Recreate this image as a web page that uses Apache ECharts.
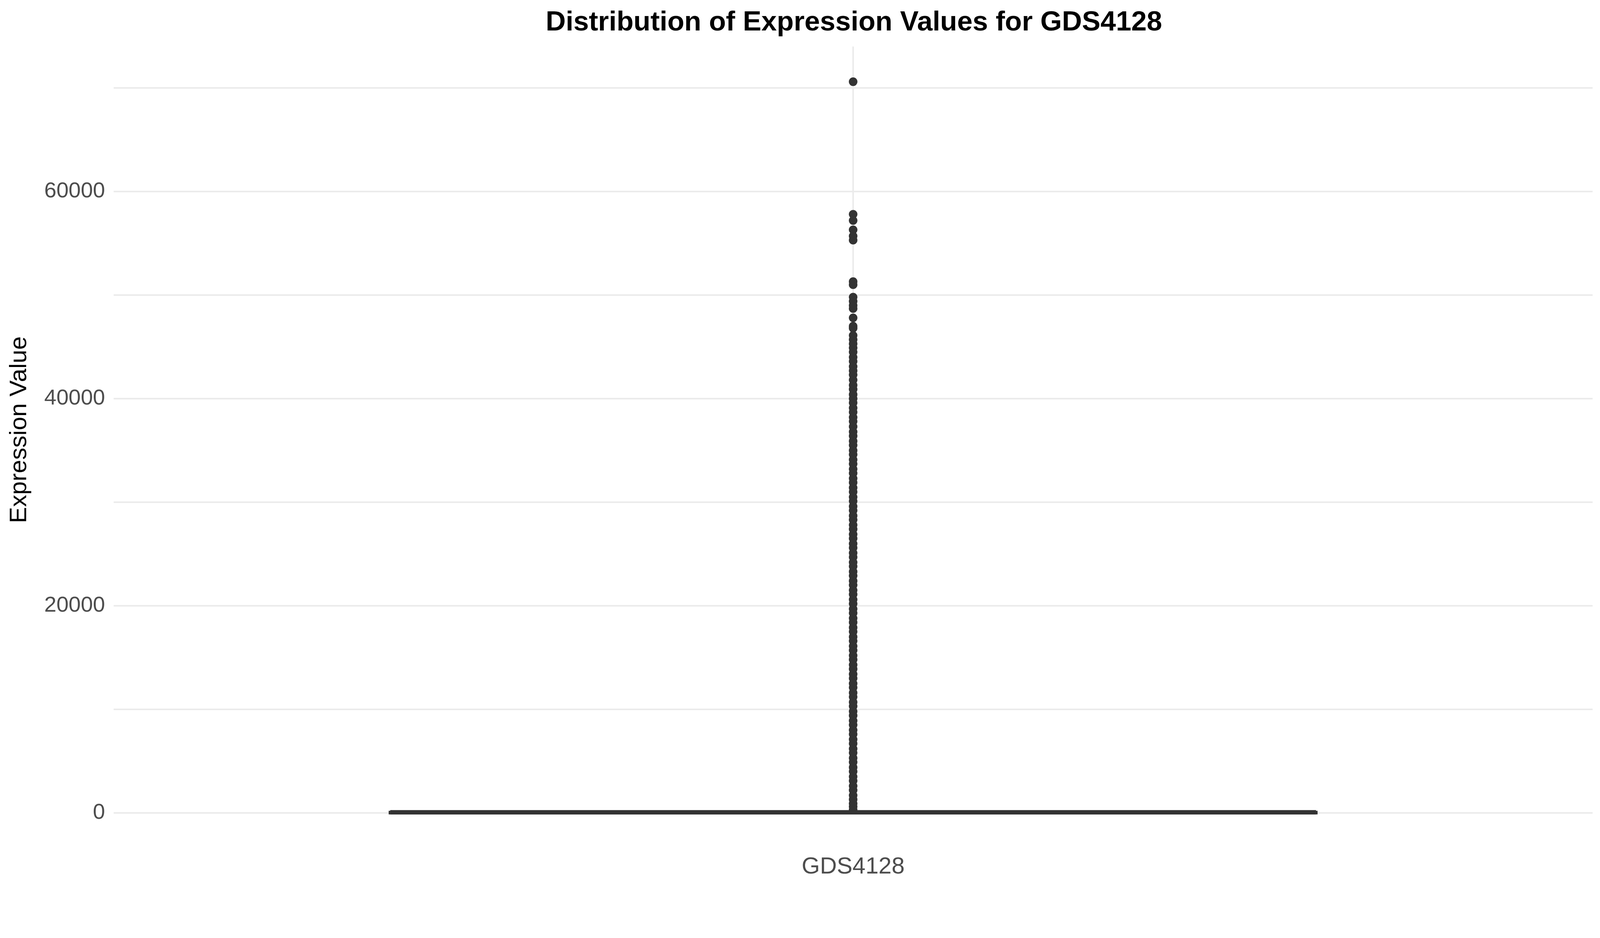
<!DOCTYPE html>
<html lang="en">
<head>
  <meta charset="UTF-8">
  <title>GDS4128</title>
  <style>
    html, body { margin: 0; padding: 0; background: #fff; }
    #main { width: 4200px; height: 2400px; }
  </style>
</head>
<body>
  <div id="main"></div>
  <script src="https://cdn.jsdelivr.net/npm/echarts@6/dist/echarts.min.js"></script>
  <script>
    var categories = ['GDS4128'];
    // min, Q1, median, Q3, upper whisker
    var boxStats = [[0, 10, 30, 60, 120]];
    // outliers
    var outliers = [
      70600, 57800, 57200, 56300, 55700, 55300, 51300, 51000, 49800, 49400,
      49000, 48700, 47800, 47000, 46800, 46100, 45700, 45300, 44900, 44500,
      44000, 43600, 43100, 42700, 42300, 41800, 41300, 40900, 40400, 40000,
      39600, 39100, 38700, 38200, 37800, 37300, 36800, 36400, 35900, 35500,
      35000, 34600, 34100, 33700, 33200, 32800, 32300, 31900, 31400, 31000,
      30500, 30100, 29600, 29200, 28700, 28300, 27800, 27400, 26900, 26500,
      26000, 25600, 25100, 24700, 24200, 23800, 23300, 22900, 22400, 22000,
      21500, 21100, 20600, 20200, 19700, 19300, 18800, 18400, 17900, 17500,
      17000, 16600, 16100, 15700, 15200, 14800, 14300, 13900, 13400, 13000,
      12500, 12100, 11600, 11200, 10700, 10300, 9800, 9400, 8900, 8500,
      8000, 7600, 7100, 6700, 6200, 5800, 5300, 4900, 4400, 4000,
      3500, 3100, 2600, 2200, 1700, 1300, 900, 600, 300
    ];

    var chart = echarts.init(document.getElementById('main'));
    chart.setOption({
      backgroundColor: '#fff',
      animation: false,
      title: {
        text: 'Distribution of Expression Values for GDS4128',
        left: 2181,
        textAlign: 'center',
        top: 18,
        textStyle: { fontFamily: 'Liberation Sans', fontWeight: 'bold', fontSize: 71, color: '#000' }
      },
      grid: { left: 291, right: 123, top: 119, bottom: 320 },
      xAxis: {
        type: 'category',
        data: categories,
        axisLine: { show: false },
        axisTick: { show: false },
        axisLabel: { fontFamily: 'Liberation Sans', fontSize: 60, color: '#4d4d4d', margin: 108 }
      },
      yAxis: {
        type: 'value',
        min: 0,
        max: 74000,
        interval: 10000,
        name: 'Expression Value',
        nameLocation: 'middle',
        nameGap: 210,
        nameTextStyle: { fontFamily: 'Liberation Sans', fontSize: 62, color: '#000' },
        axisLine: { show: false },
        axisTick: { show: false },
        axisLabel: {
          fontFamily: 'Liberation Sans', fontSize: 56, color: '#4d4d4d', margin: 22,
          showMaxLabel: false,
          formatter: function (v) { return v % 20000 === 0 ? v : ''; }
        },
        splitLine: { showMaxLine: false, lineStyle: { color: '#ebebeb', width: 4 } }
      },
      series: [{
        type: 'boxplot',
        data: boxStats,
        boxWidth: ['62.6%', '62.6%'],
        itemStyle: { color: '#fff', borderColor: '#333', borderWidth: 8 },
        z: 3
      }, {
        type: 'scatter',
        data: outliers.map(function (v) { return ['GDS4128', v]; }),
        symbolSize: 22,
        itemStyle: { color: '#333', opacity: 1 },
        z: 4,
        markLine: {
          silent: true,
          symbol: 'none',
          label: { show: false },
          lineStyle: { color: '#ebebeb', width: 4, type: 'solid' },
          data: [{ xAxis: 'GDS4128' }],
          z: 1
        }
      }]
    });
  </script>
</body>
</html>
